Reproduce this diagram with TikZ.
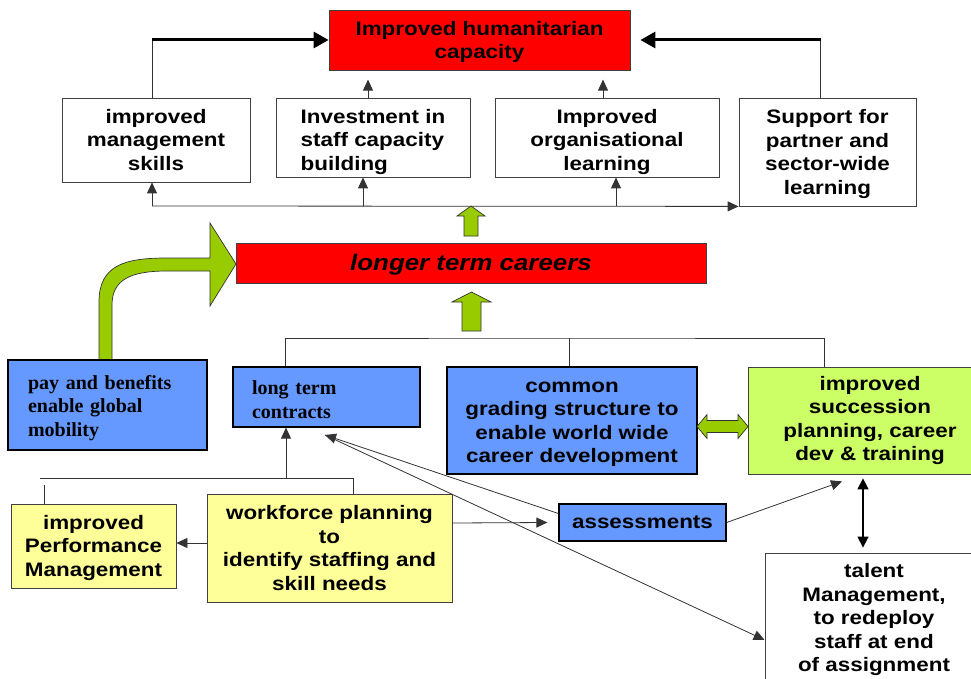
\documentclass[tikz,border=0pt]{standalone}
\usepackage{fontspec}
\setmainfont{Liberation Serif}
\newfontfamily\diagsansfamily[FakeStretch=1.15]{Liberation Sans}
\usepackage{xcolor}
\usepackage{tikz}
\usetikzlibrary{positioning,arrows.meta}
\definecolor{boxred}{HTML}{FF0000}
\definecolor{boxblue}{HTML}{6699FF}
\definecolor{boxlime}{HTML}{CCFF66}
\definecolor{boxyellow}{HTML}{FFFF99}
\definecolor{arrowgreen}{HTML}{99CC00}
\newcommand{\sansb}{\diagsansfamily\bfseries\fontsize{19.5pt}{23.5pt}\selectfont}
\newcommand{\serifb}{\rmfamily\bfseries\fontsize{20pt}{23.5pt}\selectfont}
\newcommand{\dropfirst}[1]{\rule{0pt}{#1}}

\begin{document}
\begin{tikzpicture}[x=1pt, y=-1pt,
	box/.style = {draw=black!75, line width=0.8pt, align=center, inner sep=0pt, font=\sansb},
	whitebox/.style = {box, fill=white},
	redbox/.style = {box, fill=boxred},
	bluebox/.style = {box, fill=boxblue, draw=black, line width=1.2pt},
	limebox/.style = {box, fill=boxlime},
	yellowbox/.style = {box, fill=boxyellow},
	link/.style = {draw=black!80, line width=0.8pt},
	arr/.style = {link, -{Triangle[length=11pt,width=10pt]}},
	dblarr/.style = {draw=black, line width=1.5pt, {Triangle[length=11pt,width=11pt]}-{Triangle[length=11pt,width=11pt]}},
	bigarr/.style = {draw=black, line width=3pt, -{Triangle[length=15pt,width=16pt]}},
	blockarrow/.style = {fill=arrowgreen, draw=black!80, line width=0.7pt}]
	\useasboundingbox (0,0) rectangle (971,679);
	\clip (0,0) rectangle (971,679);

	\node[redbox, minimum width=301pt, minimum height=60pt] (hum) at (479.5,40) {\dropfirst{18pt}Improved humanitarian\\capacity};

	\node[whitebox, minimum width=188pt, minimum height=84pt] (mgmt) at (156,140) {improved\\management\\skills};
	\node[whitebox, align=left, minimum width=194pt, minimum height=79pt] (invest) at (373,137.5) {\dropfirst{23pt}Investment in\\staff capacity\\building};
	\node[whitebox, minimum width=224pt, minimum height=79pt] (orglearn) at (607,137.5) {\dropfirst{23pt}Improved\\organisational\\learning};
	\node[whitebox, minimum width=177pt, minimum height=108pt] (support) at (827.5,152) {\dropfirst{18pt}Support for\\partner and\\sector-wide\\learning};

	\node[redbox, font=\sansb\itshape\fontsize{22.5pt}{26pt}\selectfont, minimum width=470pt, minimum height=40pt] (careers) at (471,263) {\dropfirst{20pt}longer term careers};

	\filldraw[blockarrow] (99,360) -- (99,302) .. controls (99,265) and (125,258) .. (167,258) -- (210,258) -- (210,223) -- (236,264) -- (210,306) -- (210,271) -- (167,271) .. controls (130,271) and (112,280) .. (112,305) -- (112,360) -- cycle;

	\node[bluebox, font=\serifb, align=left, text width=159pt, inner xsep=20pt, minimum height=90pt] (pay) at (107.5,405) {\dropfirst{19.5pt}pay and benefits\\enable global\\mobility};
	\node[bluebox, font=\serifb, align=left, text width=149pt, inner xsep=19pt, minimum height=60pt] (ltc) at (326.5,397) {\dropfirst{19.5pt}long term\\contracts};
	\node[bluebox, minimum width=250pt, minimum height=107pt] (grading) at (572,420.5) {\dropfirst{18pt}common\\grading structure to\\enable world wide\\career development};
	\node[limebox, minimum width=244pt, minimum height=107pt] (succ) at (870,420.5) {improved\\succession\\planning, career\\dev \& training};

	\node[yellowbox, minimum width=165pt, minimum height=84pt] (perf) at (93.5,546) {\dropfirst{18pt}improved\\Performance\\Management};
	\node[yellowbox, minimum width=245pt, minimum height=108pt] (wfp) at (329.5,548) {workforce planning\\to\\identify staffing and\\skill needs};
	\node[bluebox, minimum width=167pt, minimum height=37pt] (assess) at (642.5,522.5) {assessments};
	\node[whitebox, minimum width=218pt, minimum height=130pt] (talent) at (874,618) {\dropfirst{18pt}talent\\Management,\\to redeploy\\staff at end\\of assignment};

	\coordinate (mgmttop) at ([xshift=-4pt]mgmt.north);
	\coordinate (supptop) at ([xshift=-7pt]support.north);
	\draw[link] (mgmttop) -- (mgmttop |- hum.west);
	\draw[bigarr] (mgmttop |- hum.west) -- (hum.west);
	\draw[link] (supptop) -- (supptop |- hum.east);
	\draw[bigarr] (supptop |- hum.east) -- ([xshift=10pt]hum.east);
	\draw[arr] ([xshift=-5pt]invest.north) -- ++(0,-18);
	\draw[arr] ([xshift=-4pt]orglearn.north) -- ++(0,-18);

	\coordinate (bus) at (152,206);
	\coordinate (busB) at (363,206);
	\coordinate (busC) at (616,206);
	\draw[arr] (bus) -- (support.south west);
	\draw[arr] (bus) -- (bus |- mgmt.south);
	\draw[arr] (busB) -- (busB |- invest.south);
	\draw[arr] (busC) -- (busC |- orglearn.south);

	\filldraw[blockarrow] (464,236) -- (464,216) -- (457,216) -- (471,206) -- (485,216) -- (478,216) -- (478,236) -- cycle;
	\filldraw[blockarrow] (462,331) -- (462,302) -- (452,302) -- (471.5,292) -- (491,302) -- (481,302) -- (481,331) -- cycle;
	\filldraw[blockarrow] (697,426.5) -- (707,414.5) -- (707,420.5) -- (738,420.5) -- (738,414.5) -- (748,426.5) -- (738,438.5) -- (738,432.5) -- (707,432.5) -- (707,438.5) -- cycle;

	\coordinate (topbar) at (569,338);
	\draw[link] ([xshift=-41pt]ltc.north) |- (topbar) -| ([xshift=-46pt]succ.north);
	\draw[link] (topbar) -- (topbar |- grading.north);

	\coordinate (lowL) at (40,478);
	\coordinate (lowR) at (353,478);
	\coordinate (ltcfoot) at (286,478);
	\coordinate (perftop) at (44,485);
	\draw[link] (lowL) -- (lowR) -- (lowR |- wfp.north);
	\draw[link] (perftop) -- (perftop |- perf.north);
	\draw[arr] (ltcfoot) -- (ltcfoot |- ltc.south);

	\coordinate (wfpL) at ([yshift=5pt]wfp.west);
	\coordinate (wfpR) at ([yshift=25pt]wfp.east);
	\coordinate (ltctip) at (325,435);
	\draw[arr] (wfpL) -- (wfpL -| perf.east);
	\draw[arr] (wfpR) -- ([xshift=-11pt]assess.west);
	\draw[arr] ([yshift=9pt]assess.west) -- (ltctip);
	\draw[arr] (ltctip) -- ([yshift=-22pt]talent.west);
	\draw[arr] (assess.east) -- ([xshift=-28pt,yshift=-7pt]succ.south);
	\draw[dblarr] ([xshift=-7pt,yshift=-4pt]succ.south) -- ([xshift=-11pt,yshift=5pt]talent.north);
\end{tikzpicture}
\end{document}
